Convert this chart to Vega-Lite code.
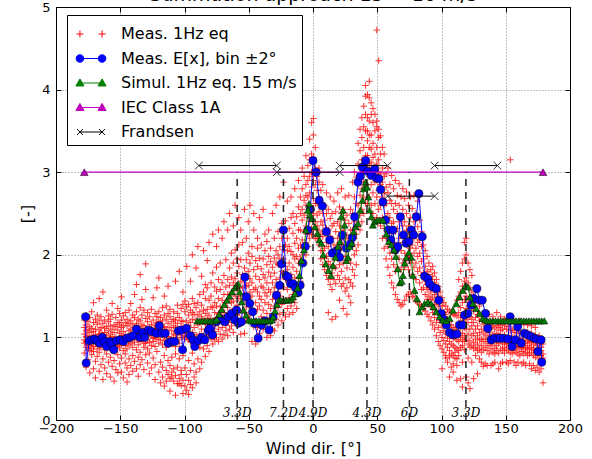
{
  "$schema": "https://vega.github.io/schema/vega-lite/v6.json",
  "width": 514,
  "height": 413,
  "autosize": {"type": "none"},
  "padding": {"left": 56, "top": 7, "right": 22, "bottom": 39},
  "background": "white",
  "title": {"text": "Summation approach 15 − 16 m/s", "font": "DejaVu Sans", "fontSize": 19, "fontWeight": "normal", "color": "black", "baseline": "alphabetic", "offset": 0, "dy": 19, "anchor": "middle", "frame": "group"},
  "config": {
    "view": {"stroke": "black", "strokeWidth": 1},
    "axis": {"labelFont": "DejaVu Sans", "labelFontSize": 13, "labelColor": "black", "titleFont": "DejaVu Sans", "titleFontSize": 16, "titleFontWeight": "normal", "titleColor": "black", "domain": false, "tickColor": "black", "tickSize": -5, "labelFlush": false, "labelOverlap": false, "gridColor": "#000000", "gridOpacity": 0.6, "gridDash": [1, 2], "gridWidth": 0.8}
  },
  "datasets": {
    "meas": [
      {"x":-178,"ys":[1.21,0.93,1.04,0.81,1.12,0.97]},
      {"x":-176.6,"ys":[0.88,1.15,1.01,0.64,1.27,0.95,1.08]},
      {"x":-175.1,"ys":[1.09,0.91,0.73,1.19,1.02,0.86]},
      {"x":-173.7,"ys":[0.97,1.24,0.84,1.06,0.57,1.13,0.9]},
      {"x":-172.2,"ys":[1.11,0.94,1.01,0.79,1.31,0.87]},
      {"x":-170.8,"ys":[0.89,1.07,1.18,0.62,0.99,1.42,0.83]},
      {"x":-169.3,"ys":[1.03,0.92,1.22,0.71,1.1,0.51,0.96]},
      {"x":-167.9,"ys":[1.16,0.86,1.0,0.77,1.27,0.93]},
      {"x":-166.4,"ys":[0.95,1.09,0.82,1.2,0.59,1.04,1.47,0.9]},
      {"x":-165,"ys":[1.12,0.99,0.67,0.88,1.25,1.05]},
      {"x":-163.5,"ys":[0.91,1.17,1.03,0.74,0.49,1.55,0.96]},
      {"x":-162.1,"ys":[1.06,0.85,1.21,0.63,0.98,1.11]},
      {"x":-160.6,"ys":[0.94,1.13,0.8,1.33,1.02,0.56,0.88]},
      {"x":-159.2,"ys":[1.08,0.97,1.19,0.7,0.9,1.26]},
      {"x":-157.7,"ys":[0.87,1.04,0.76,1.14,0.52,0.99,1.22]},
      {"x":-156.3,"ys":[1.1,0.92,1.28,0.65,1.01,1.41,0.84]},
      {"x":-154.8,"ys":[0.96,1.15,0.83,0.47,1.06,0.72]},
      {"x":-153.4,"ys":[1.13,0.89,1.24,1.0,0.61,0.93]},
      {"x":-151.9,"ys":[0.98,1.09,0.79,1.35,0.57,1.18,0.9]},
      {"x":-150.5,"ys":[1.05,0.87,1.16,0.68,1.29,0.95]},
      {"x":-149,"ys":[0.92,1.12,1.02,0.58,0.75,1.49,1.21]},
      {"x":-147.6,"ys":[1.07,0.95,1.26,0.51,0.84,1.14]},
      {"x":-146.1,"ys":[0.9,1.18,1.03,0.69,0.8,1.3,0.97]},
      {"x":-144.7,"ys":[1.14,0.99,0.86,1.22,0.46,0.63]},
      {"x":-143.2,"ys":[0.96,1.08,1.33,0.74,0.91,1.17,0.55]},
      {"x":-141.8,"ys":[1.1,0.93,1.2,0.66,1.03,1.41]},
      {"x":-140.3,"ys":[0.88,1.15,1.01,0.78,1.27,0.59,0.97]},
      {"x":-138.9,"ys":[1.05,0.94,1.24,0.71,1.12,1.52]},
      {"x":-137.4,"ys":[0.99,1.17,0.85,1.31,0.62,1.07,1.64]},
      {"x":-136,"ys":[1.13,0.91,1.04,0.76,1.22,0.53]},
      {"x":-134.5,"ys":[0.95,1.2,1.09,0.82,1.36,0.67,1.76]},
      {"x":-133.1,"ys":[1.08,0.98,1.27,0.73,1.15,1.46]},
      {"x":-131.6,"ys":[0.93,1.14,1.03,0.61,1.33,0.88]},
      {"x":-130.2,"ys":[1.11,1.0,1.23,0.79,1.58,0.93,1.89]},
      {"x":-128.7,"ys":[0.97,1.19,1.06,0.69,1.3,0.86]},
      {"x":-127.3,"ys":[1.12,0.94,1.25,0.81,0.56,1.04]},
      {"x":-125.8,"ys":[1.02,1.16,0.9,1.34,0.63,1.09]},
      {"x":-124.4,"ys":[0.95,1.21,1.07,0.75,1.48,0.99]},
      {"x":-122.9,"ys":[1.14,1.0,1.29,0.67,0.49,0.89,1.11]},
      {"x":-121.5,"ys":[0.98,1.18,1.06,0.83,1.6,1.25]},
      {"x":-120,"ys":[1.09,0.93,1.31,0.58,1.72,1.02,1.19]},
      {"x":-118.6,"ys":[1.16,0.97,1.24,0.7,0.45,1.05]},
      {"x":-117.1,"ys":[1.03,1.2,0.91,1.36,0.64,0.52,1.12]},
      {"x":-115.7,"ys":[0.96,1.13,1.27,0.78,1.5,0.41,1.06]},
      {"x":-114.2,"ys":[1.1,0.99,1.22,0.6,1.38,0.47,0.88]},
      {"x":-112.8,"ys":[1.01,1.17,0.94,0.72,0.55,1.62,1.29]},
      {"x":-111.3,"ys":[1.12,0.97,1.25,0.66,0.35,1.34,0.5]},
      {"x":-109.9,"ys":[0.99,1.19,1.08,0.76,0.58,0.52,0.92]},
      {"x":-108.4,"ys":[1.14,0.95,1.31,0.62,1.04,0.47,1.22]},
      {"x":-107,"ys":[1.03,1.21,0.89,0.8,0.54,0.3,1.68,1.12]},
      {"x":-105.5,"ys":[1.17,0.98,1.29,0.64,1.39,0.44,1.06]},
      {"x":-104.1,"ys":[1.06,1.24,0.93,0.74,0.5,0.44,1.8]},
      {"x":-102.6,"ys":[1.13,1.0,1.35,0.6,0.42,0.55,1.2]},
      {"x":-101.2,"ys":[1.02,1.19,1.09,0.78,0.48,0.32,1.55,1.4]},
      {"x":-99.7,"ys":[1.12,0.41,1.31,0.98,0.63,1.05,1.44]},
      {"x":-98.3,"ys":[0.36,1.2,1.01,1.37,0.55,1.86,1.09]},
      {"x":-96.8,"ys":[1.27,0.97,0.48,1.14,0.31,1.4,0.72]},
      {"x":-95.4,"ys":[1.04,1.33,0.6,1.18,0.95,1.68,0.43]},
      {"x":-93.9,"ys":[1.22,0.39,1.47,1.06,0.81,2.0,1.3]},
      {"x":-92.5,"ys":[0.99,1.28,0.52,1.12,0.68,1.41]},
      {"x":-91,"ys":[1.36,1.03,0.45,1.21,1.84,0.93,0.58]},
      {"x":-89.6,"ys":[1.15,0.74,1.42,0.98,2.1,1.27]},
      {"x":-88.1,"ys":[1.04,1.52,0.62,1.31,0.88,1.18]},
      {"x":-86.7,"ys":[1.39,1.1,0.7,1.25,1.74,0.97]},
      {"x":-85.2,"ys":[1.2,0.86,1.55,1.02,2.05,1.33]},
      {"x":-83.8,"ys":[1.0,1.47,1.16,0.77,1.64,1.29]},
      {"x":-82.3,"ys":[1.34,1.08,1.6,0.9,1.23,1.93]},
      {"x":-80.9,"ys":[1.13,1.45,0.83,1.27,2.15,1.02]},
      {"x":-79.4,"ys":[1.5,1.22,0.98,1.66,1.09,1.37]},
      {"x":-78,"ys":[1.05,1.36,1.78,1.18,0.92,2.25]},
      {"x":-76.5,"ys":[1.42,1.14,1.61,0.97,1.3,1.07]},
      {"x":-75.1,"ys":[1.24,1.56,1.0,1.85,1.38,2.1]},
      {"x":-73.6,"ys":[1.1,1.47,1.29,0.95,1.7,2.3]},
      {"x":-72.2,"ys":[1.58,1.2,1.37,1.04,1.9,1.27]},
      {"x":-70.7,"ys":[1.33,1.12,1.66,1.45,0.98,2.2]},
      {"x":-69.3,"ys":[1.19,1.52,1.03,1.75,1.3,2.4]},
      {"x":-67.8,"ys":[1.61,1.26,1.42,1.08,1.94,1.15]},
      {"x":-66.4,"ys":[1.36,1.7,1.18,1.52,2.3,1.02]},
      {"x":-64.9,"ys":[1.22,1.47,1.84,1.1,1.63,2.5]},
      {"x":-63.5,"ys":[1.55,1.31,1.14,1.73,2.02,1.42]},
      {"x":-62,"ys":[1.28,1.66,1.44,1.06,1.9,2.35]},
      {"x":-60.6,"ys":[1.71,1.2,1.5,1.35,2.06,2.6]},
      {"x":-59.1,"ys":[1.39,1.78,1.16,1.58,1.95,1.27]},
      {"x":-57.7,"ys":[1.6,1.3,1.86,1.47,2.12,2.45]},
      {"x":-56.2,"ys":[1.22,1.68,1.5,1.04,1.94,2.3]},
      {"x":-54.8,"ys":[1.76,1.43,1.19,1.6,2.15,1.33]},
      {"x":-53.3,"ys":[1.52,1.84,1.3,1.66,1.05,2.55]},
      {"x":-51.9,"ys":[1.37,1.62,1.94,1.21,1.75,2.2]},
      {"x":-50.4,"ys":[1.8,1.48,1.26,1.63,2.02,2.4]},
      {"x":-49,"ys":[1.44,1.71,1.2,1.9,1.55,2.6]},
      {"x":-47.5,"ys":[1.66,1.35,1.98,1.5,0.95,2.1]},
      {"x":-46.1,"ys":[1.29,1.82,1.58,1.13,2.3,2.5]},
      {"x":-44.6,"ys":[1.74,1.42,1.2,1.93,1.6,0.92]},
      {"x":-43.2,"ys":[1.55,1.86,1.34,2.08,1.12,2.2]},
      {"x":-41.7,"ys":[1.38,1.7,1.96,1.5,2.45,1.05]},
      {"x":-40.3,"ys":[1.83,1.46,1.62,1.25,2.12,1.15]},
      {"x":-38.8,"ys":[1.6,1.95,1.33,1.76,2.55,1.1]},
      {"x":-37.4,"ys":[1.42,1.72,2.05,1.54,1.18,2.25]},
      {"x":-35.9,"ys":[1.88,1.5,1.66,1.29,2.16,1.0]},
      {"x":-34.5,"ys":[1.58,1.98,1.4,1.79,2.3,1.2]},
      {"x":-33,"ys":[1.74,1.35,2.08,1.55,1.02,1.92]},
      {"x":-31.6,"ys":[1.46,1.85,1.66,1.25,2.5,1.1]},
      {"x":-30.1,"ys":[1.96,1.6,1.38,2.2,1.78,1.08]},
      {"x":-28.7,"ys":[1.7,2.05,1.48,1.9,2.6,1.22]},
      {"x":-27.2,"ys":[1.55,1.88,2.28,1.36,2.0,1.15]},
      {"x":-25.8,"ys":[2.1,1.72,1.5,1.95,2.7,1.28]},
      {"x":-24.3,"ys":[1.8,2.2,1.62,2.38,1.4,1.2]},
      {"x":-22.9,"ys":[1.95,1.6,2.3,1.78,2.88,1.3,2.06]},
      {"x":-21.4,"ys":[1.7,2.12,1.86,2.41,1.45,1.25]},
      {"x":-20,"ys":[2.2,1.82,1.58,2.05,2.65,1.35]},
      {"x":-18.5,"ys":[1.9,2.32,1.68,2.1,1.48,1.28]},
      {"x":-17.1,"ys":[2.04,1.76,2.45,1.62,2.7,1.38]},
      {"x":-15.6,"ys":[1.85,2.26,2.0,1.52,2.5,1.3]},
      {"x":-14.2,"ys":[2.14,1.72,2.38,1.95,2.8,1.42]},
      {"x":-12.7,"ys":[1.98,2.46,1.8,2.2,1.6,1.35]},
      {"x":-11.3,"ys":[2.3,1.9,2.58,2.08,2.9,1.72]},
      {"x":-9.8,"ys":[2.12,2.5,1.95,2.7,2.3,1.68]},
      {"x":-8.4,"ys":[2.42,2.18,2.8,2.0,3.05,2.55]},
      {"x":-6.9,"ys":[2.28,2.66,2.1,2.95,2.48,1.9]},
      {"x":-5.5,"ys":[2.6,2.35,2.85,2.15,3.2,2.0,2.72]},
      {"x":-4,"ys":[2.45,2.9,2.25,2.7,3.08,2.1]},
      {"x":-2.6,"ys":[2.75,2.4,3.15,2.58,3.4,2.2,2.95]},
      {"x":-1.1,"ys":[2.55,3.0,2.32,2.82,3.6,2.25,3.22]},
      {"x":0.3,"ys":[2.9,2.5,3.18,2.68,3.45,3.65,2.3,2.98]},
      {"x":1.8,"ys":[2.62,3.05,2.4,2.85,3.3,2.2]},
      {"x":3.2,"ys":[2.48,2.78,2.2,2.95,2.62,2.35]},
      {"x":4.7,"ys":[2.7,2.3,2.88,2.12,3.05,2.52]},
      {"x":6.1,"ys":[2.4,2.6,2.05,2.78,2.25,1.95]},
      {"x":7.6,"ys":[2.22,2.5,1.88,2.85,2.36,2.05]},
      {"x":9,"ys":[2.42,2.08,2.6,1.82,2.28,1.96]},
      {"x":10.5,"ys":[2.15,2.5,1.75,2.75,2.32,1.98]},
      {"x":11.9,"ys":[2.3,1.92,2.55,1.7,2.1,1.3]},
      {"x":13.4,"ys":[2.02,2.44,1.64,2.7,2.22,1.88]},
      {"x":14.8,"ys":[2.2,1.78,2.5,1.58,2.35,1.22]},
      {"x":16.3,"ys":[1.95,2.38,1.7,2.65,2.12,1.85]},
      {"x":17.7,"ys":[2.28,1.84,2.52,1.65,2.08,1.25]},
      {"x":19.2,"ys":[2.0,2.4,1.75,2.75,2.2,1.95]},
      {"x":20.6,"ys":[2.35,1.88,2.58,1.7,2.15,1.45]},
      {"x":22.1,"ys":[2.08,2.5,1.8,2.8,2.26,1.62]},
      {"x":23.5,"ys":[2.3,1.9,2.55,1.65,2.12,1.35]},
      {"x":25,"ys":[1.98,2.42,1.72,2.7,2.18,1.56]},
      {"x":26.4,"ys":[2.24,1.84,2.48,1.6,2.05,1.28]},
      {"x":27.9,"ys":[1.95,2.38,1.7,2.72,2.2,1.5]},
      {"x":29.3,"ys":[2.3,1.9,2.55,1.66,2.12,1.42]},
      {"x":30.8,"ys":[2.1,2.5,1.82,2.88,2.3,1.62]},
      {"x":32.2,"ys":[2.4,2.0,2.7,3.0,2.2,1.75]},
      {"x":33.7,"ys":[2.25,2.62,2.94,2.05,2.45,1.88]},
      {"x":35.1,"ys":[2.6,2.35,3.1,2.85,3.35,2.12]},
      {"x":36.6,"ys":[2.48,2.95,2.72,3.26,3.52,2.3]},
      {"x":38,"ys":[2.8,3.15,2.55,3.42,3.66,3.0,2.4]},
      {"x":39.5,"ys":[3.0,2.7,3.3,3.55,3.8,2.88,2.5]},
      {"x":40.9,"ys":[3.2,2.85,3.5,3.08,3.92,4.05,2.62,3.7]},
      {"x":42.4,"ys":[3.05,3.38,2.8,3.66,3.94,3.2,2.62,3.5]},
      {"x":43.8,"ys":[3.3,2.95,3.62,3.1,3.9,4.1,2.7,3.45]},
      {"x":45.3,"ys":[3.12,3.45,2.85,3.7,3.28,2.6,3.84]},
      {"x":46.7,"ys":[2.98,3.35,3.6,2.75,3.18,3.77,2.5]},
      {"x":48.2,"ys":[3.22,2.88,3.5,3.05,2.62,3.7,2.42]},
      {"x":49.6,"ys":[2.9,3.3,2.7,3.55,3.1,4.72,2.45,3.62]},
      {"x":51.1,"ys":[3.15,2.78,3.42,2.55,3.0,4.35,3.52]},
      {"x":52.5,"ys":[2.85,3.22,2.6,2.98,3.44,2.35]},
      {"x":54,"ys":[3.05,2.7,2.45,3.3,2.88,2.2]},
      {"x":55.4,"ys":[2.6,2.95,2.32,3.22,2.75,2.08]},
      {"x":56.9,"ys":[2.82,2.45,2.98,2.2,2.62,1.95]},
      {"x":58.3,"ys":[2.5,2.75,2.1,3.05,2.32,1.85]},
      {"x":59.8,"ys":[2.66,2.28,2.85,2.02,2.45,1.75]},
      {"x":61.2,"ys":[2.38,2.62,1.95,2.96,2.2,1.66]},
      {"x":62.7,"ys":[2.55,2.15,2.8,1.88,2.4,1.6]},
      {"x":64.1,"ys":[2.28,2.62,2.02,2.9,1.8,1.52]},
      {"x":65.6,"ys":[2.5,2.1,2.72,1.85,2.32,1.46]},
      {"x":67,"ys":[2.2,2.6,1.95,2.86,2.4,1.42]},
      {"x":68.5,"ys":[2.45,2.05,2.7,1.82,2.25,1.38]},
      {"x":69.9,"ys":[2.15,2.55,1.9,2.8,2.35,1.4]},
      {"x":71.4,"ys":[2.4,2.02,2.68,1.85,2.22,1.45]},
      {"x":72.8,"ys":[2.12,2.5,1.95,2.76,2.3,1.5]},
      {"x":74.3,"ys":[2.35,1.98,2.6,1.82,2.18,1.52]},
      {"x":75.7,"ys":[2.08,2.45,1.9,2.7,2.25,1.55]},
      {"x":77.2,"ys":[2.3,1.94,2.56,1.76,2.12,1.49]},
      {"x":78.6,"ys":[2.02,2.4,1.85,2.72,2.2,1.5]},
      {"x":80.1,"ys":[2.25,1.9,2.5,1.7,2.08,1.44]},
      {"x":81.5,"ys":[1.98,2.34,1.8,2.65,2.15,1.42]},
      {"x":83,"ys":[2.18,1.84,2.42,1.66,2.02,1.4]},
      {"x":84.4,"ys":[1.92,2.28,1.75,2.1,1.58,1.38]},
      {"x":85.9,"ys":[2.12,1.78,1.95,1.6,2.22,1.35]},
      {"x":87.3,"ys":[1.86,2.05,1.68,1.52,1.76,1.32]},
      {"x":88.8,"ys":[1.64,1.98,1.8,1.46,1.58,1.28]},
      {"x":90.2,"ys":[1.9,1.6,1.76,1.42,1.5,1.25]},
      {"x":91.7,"ys":[1.55,1.82,1.7,1.37,1.46,1.2]},
      {"x":93.1,"ys":[1.74,1.48,1.62,1.3,1.86,1.15]},
      {"x":94.6,"ys":[1.4,1.66,1.52,1.24,1.78,1.1]},
      {"x":96,"ys":[1.56,1.32,1.44,1.18,1.7,1.02]},
      {"x":97.5,"ys":[1.28,1.5,1.38,1.12,1.62,0.95]},
      {"x":98.9,"ys":[1.44,1.2,1.32,1.06,1.55,0.9]},
      {"x":100.4,"ys":[1.14,1.38,1.26,1.0,0.62,1.48,0.86]},
      {"x":101.8,"ys":[1.3,1.08,1.22,0.96,1.42,0.82]},
      {"x":103.3,"ys":[1.04,1.28,1.16,0.92,0.75,1.38,0.78]},
      {"x":104.7,"ys":[1.22,0.99,1.12,0.88,1.34,0.7]},
      {"x":106.2,"ys":[0.95,1.2,1.06,0.84,0.52,1.32,0.76]},
      {"x":107.6,"ys":[1.15,0.92,1.03,0.8,1.3,0.64]},
      {"x":109.1,"ys":[0.9,1.12,0.99,0.78,0.68,1.28,0.58]},
      {"x":110.5,"ys":[1.1,0.88,1.0,0.75,1.27,0.82]},
      {"x":112,"ys":[0.86,1.08,0.97,0.66,0.48,1.26,1.45,0.74]},
      {"x":113.4,"ys":[1.05,0.84,1.3,0.95,1.5,1.7,0.78,1.18]},
      {"x":114.9,"ys":[0.88,1.12,1.0,1.36,0.5,1.55,1.8,1.24]},
      {"x":116.3,"ys":[1.05,0.9,1.42,1.2,0.7,1.62,1.9,0.4,0.97]},
      {"x":117.8,"ys":[1.3,0.95,1.12,1.46,1.68,0.85,1.95,2.15,1.02]},
      {"x":119.2,"ys":[0.98,1.22,1.5,1.1,1.72,0.52,2.0,2.2,1.35]},
      {"x":120.7,"ys":[1.18,0.92,1.46,1.04,1.66,0.75,1.9,0.45,1.28]},
      {"x":122.1,"ys":[0.96,1.25,1.1,1.42,0.38,1.6,1.82,0.88]},
      {"x":123.6,"ys":[1.14,0.9,1.36,1.02,0.7,1.55,1.75,1.22]},
      {"x":125,"ys":[0.94,1.18,1.05,1.32,0.5,1.5,0.86]},
      {"x":126.5,"ys":[1.1,0.88,1.24,0.98,0.78,1.44]},
      {"x":128,"ys":[0.92,1.14,1.02,1.28,0.56,0.84]},
      {"x":129.5,"ys":[1.06,0.86,1.2,0.97,0.74,1.38]},
      {"x":131,"ys":[0.9,1.1,0.98,1.22,0.7,0.82]},
      {"x":132.5,"ys":[1.04,0.85,1.16,0.95,0.65]},
      {"x":134,"ys":[0.88,1.08,0.98,1.2,0.68,1.3]},
      {"x":135.5,"ys":[1.02,0.84,1.14,0.93,0.66]},
      {"x":137,"ys":[0.9,1.06,0.8,1.15,0.98,1.28]},
      {"x":138.5,"ys":[1.0,0.86,1.12,0.94,0.66]},
      {"x":140,"ys":[0.82,1.04,0.92,1.14,0.68,1.25]},
      {"x":141.5,"ys":[0.98,0.87,1.1,0.8,0.7]},
      {"x":143,"ys":[0.9,1.05,0.84,1.14,0.96,1.3]},
      {"x":144.5,"ys":[1.02,0.81,0.93,1.12,0.62]},
      {"x":146,"ys":[0.86,1.08,0.97,1.15,0.68,1.25]},
      {"x":147.5,"ys":[1.0,0.84,1.1,0.92,0.7]},
      {"x":149,"ys":[0.88,1.03,0.81,1.14,0.95,1.22]},
      {"x":150.5,"ys":[0.98,0.86,1.1,0.92,0.7]},
      {"x":152,"ys":[0.84,1.02,0.93,1.13,0.68,1.2]},
      {"x":153.5,"ys":[0.96,0.82,1.08,0.9,0.72,3.15]},
      {"x":155,"ys":[0.88,1.0,0.8,1.1,0.94,1.22]},
      {"x":156.5,"ys":[0.97,0.84,1.06,0.9,0.7]},
      {"x":158,"ys":[0.82,0.99,0.89,1.09,0.66,1.18]},
      {"x":159.5,"ys":[0.95,0.8,1.05,0.88,0.7]},
      {"x":161,"ys":[0.86,0.98,0.78,1.08,0.93,1.2]},
      {"x":162.5,"ys":[0.96,0.83,1.05,0.88,0.68]},
      {"x":164,"ys":[0.8,0.97,0.88,1.07,0.7,1.16]},
      {"x":165.5,"ys":[0.93,0.82,1.03,0.87,0.66]},
      {"x":167,"ys":[0.85,0.96,0.78,1.06,0.9,1.15]},
      {"x":168.5,"ys":[0.94,0.8,1.02,0.87,0.68]},
      {"x":170,"ys":[0.82,0.95,0.88,1.05,0.62,1.14]},
      {"x":171.5,"ys":[0.92,0.78,1.0,0.86,0.66]},
      {"x":173,"ys":[0.84,0.94,0.76,1.03,0.6,1.12]},
      {"x":174.5,"ys":[0.9,0.8,0.98,0.85,0.64]},
      {"x":176,"ys":[0.82,0.92,0.74,1.02,0.58]},
      {"x":177.5,"ys":[0.88,0.78,0.96,0.84,0.62]},
      {"x":179,"ys":[0.8,0.92,0.75,0.45]}
    ],
    "blue": [
      {"x":-177,"y":1.25},{"x":-176.5,"y":0.69},{"x":-174,"y":0.96},{"x":-172,"y":0.97},{"x":-170,"y":0.98},{"x":-168,"y":0.96},{"x":-166,"y":0.93},{"x":-164,"y":1.0},{"x":-162,"y":0.95},{"x":-160.5,"y":0.89},{"x":-158,"y":0.95},{"x":-156.5,"y":0.93},{"x":-155,"y":0.85},{"x":-152.8,"y":0.96},{"x":-150,"y":0.97},{"x":-147.6,"y":0.95},{"x":-145,"y":0.99},{"x":-142.5,"y":1.0},{"x":-140,"y":1.02},{"x":-137.4,"y":1.1},{"x":-134.7,"y":1.0},{"x":-132.6,"y":1.06},{"x":-131,"y":1.0},{"x":-128,"y":1.09},{"x":-125.6,"y":1.07},{"x":-122,"y":1.05},{"x":-119.6,"y":1.14},{"x":-117.8,"y":1.05},{"x":-115,"y":1.05},{"x":-112.6,"y":0.93},{"x":-110,"y":0.95},{"x":-107.5,"y":0.95},{"x":-104.8,"y":1.08},{"x":-102.3,"y":1.09},{"x":-101.5,"y":0.85},{"x":-98.4,"y":1.11},{"x":-95.3,"y":1.02},{"x":-93.3,"y":0.97},{"x":-92,"y":0.89},{"x":-89.3,"y":0.96},{"x":-86.7,"y":1.0},{"x":-84.2,"y":0.97},{"x":-81.6,"y":1.08},{"x":-80.3,"y":1.11},{"x":-78.2,"y":1.03},{"x":-75,"y":1.19},{"x":-72.5,"y":1.23},{"x":-68.6,"y":1.19},{"x":-66,"y":1.25},{"x":-63.4,"y":1.29},{"x":-60.9,"y":1.21},{"x":-59.5,"y":1.33},{"x":-58,"y":1.17},{"x":-55.7,"y":1.19},{"x":-53,"y":1.73},{"x":-51.8,"y":1.49},{"x":-49.2,"y":1.41},{"x":-47,"y":1.31},{"x":-45.5,"y":1.17},{"x":-42.7,"y":0.99},{"x":-40,"y":1.15},{"x":-37.5,"y":1.2},{"x":-34.2,"y":1.09},{"x":-31,"y":1.25},{"x":-28.4,"y":1.51},{"x":-26,"y":1.63},{"x":-24.5,"y":1.89},{"x":-23,"y":2.3},{"x":-21,"y":1.75},{"x":-19.4,"y":1.73},{"x":-17.5,"y":1.65},{"x":-15.5,"y":1.65},{"x":-13.5,"y":1.6},{"x":-11.6,"y":1.54},{"x":-10,"y":1.63},{"x":-8,"y":1.9},{"x":-6,"y":2.1},{"x":-4,"y":2.3},{"x":-2,"y":2.55},{"x":0,"y":3.14},{"x":2.5,"y":3.0},{"x":4.8,"y":2.66},{"x":7.3,"y":2.59},{"x":10.4,"y":2.28},{"x":13,"y":2.18},{"x":15,"y":2.02},{"x":18.6,"y":2.05},{"x":20.7,"y":1.97},{"x":22.8,"y":2.24},{"x":26,"y":2.08},{"x":29,"y":2.13},{"x":30.6,"y":2.21},{"x":32.4,"y":2.46},{"x":35,"y":2.88},{"x":36.8,"y":2.95},{"x":38.4,"y":3.06},{"x":41,"y":3.14},{"x":42.5,"y":3.01},{"x":45.4,"y":2.96},{"x":48,"y":3.04},{"x":49.3,"y":2.93},{"x":51.3,"y":2.92},{"x":52.6,"y":2.79},{"x":54.4,"y":2.64},{"x":56.5,"y":2.42},{"x":58.5,"y":2.3},{"x":60.5,"y":2.18},{"x":62.2,"y":2.3},{"x":64,"y":2.06},{"x":66,"y":2.1},{"x":68,"y":2.46},{"x":70.5,"y":2.24},{"x":72.5,"y":2.14},{"x":74.6,"y":2.16},{"x":76.5,"y":2.3},{"x":78.3,"y":2.24},{"x":80.4,"y":2.46},{"x":82.4,"y":2.74},{"x":85,"y":2.22},{"x":86.8,"y":1.74},{"x":89.4,"y":1.71},{"x":90.7,"y":1.65},{"x":93.3,"y":1.61},{"x":95.9,"y":1.59},{"x":97.9,"y":1.45},{"x":99.8,"y":1.29},{"x":101.6,"y":1.22},{"x":103.7,"y":1.15},{"x":106.3,"y":1.06},{"x":108.8,"y":1.03},{"x":112,"y":1.04},{"x":114,"y":1.15},{"x":116.6,"y":1.15},{"x":117.9,"y":1.27},{"x":120.5,"y":1.29},{"x":123,"y":1.39},{"x":125,"y":1.47},{"x":127.5,"y":1.59},{"x":129.6,"y":1.45},{"x":131.7,"y":1.45},{"x":134.2,"y":1.29},{"x":136,"y":1.11},{"x":138.7,"y":0.97},{"x":141.2,"y":0.99},{"x":143.8,"y":0.99},{"x":145.7,"y":0.99},{"x":148.2,"y":0.99},{"x":151.6,"y":0.98},{"x":153.4,"y":1.25},{"x":155,"y":0.89},{"x":157.5,"y":0.97},{"x":159.3,"y":1.13},{"x":162,"y":0.93},{"x":164.5,"y":1.05},{"x":167,"y":1.03},{"x":169.7,"y":1.01},{"x":172.3,"y":0.99},{"x":174,"y":0.98},{"x":175,"y":0.83},{"x":177.5,"y":0.97},{"x":178,"y":0.7}
    ],
    "green": [
      {"x":-90,"y":1.2},{"x":-88,"y":1.2},{"x":-86,"y":1.2},{"x":-84,"y":1.2},{"x":-82,"y":1.2},{"x":-80,"y":1.2},{"x":-78,"y":1.2},{"x":-76,"y":1.2},{"x":-75,"y":1.22},{"x":-73,"y":1.28},{"x":-71,"y":1.34},{"x":-69,"y":1.4},{"x":-67,"y":1.45},{"x":-65,"y":1.5},{"x":-63,"y":1.55},{"x":-61,"y":1.6},{"x":-59.5,"y":1.63},{"x":-58.3,"y":1.65},{"x":-57,"y":1.55},{"x":-55.5,"y":1.43},{"x":-54,"y":1.33},{"x":-52,"y":1.27},{"x":-50,"y":1.21},{"x":-48,"y":1.2},{"x":-46,"y":1.2},{"x":-44,"y":1.2},{"x":-42,"y":1.2},{"x":-40,"y":1.2},{"x":-38,"y":1.2},{"x":-36,"y":1.2},{"x":-34,"y":1.2},{"x":-32,"y":1.21},{"x":-31,"y":1.25},{"x":-29.5,"y":1.32},{"x":-28,"y":1.4},{"x":-26.5,"y":1.45},{"x":-25,"y":1.45},{"x":-23,"y":1.45},{"x":-21,"y":1.45},{"x":-19,"y":1.45},{"x":-17,"y":1.46},{"x":-15.5,"y":1.49},{"x":-14,"y":1.53},{"x":-12,"y":1.6},{"x":-10.5,"y":1.75},{"x":-9,"y":1.93},{"x":-7,"y":2.06},{"x":-5.5,"y":2.3},{"x":-4,"y":2.54},{"x":-3,"y":2.62},{"x":-2,"y":2.48},{"x":-0.5,"y":2.44},{"x":1.5,"y":2.34},{"x":3.5,"y":2.26},{"x":5,"y":2.18},{"x":6.5,"y":2.14},{"x":8,"y":2.0},{"x":10,"y":1.89},{"x":12,"y":1.81},{"x":14,"y":1.75},{"x":15.5,"y":1.87},{"x":17.5,"y":1.97},{"x":19.5,"y":2.1},{"x":21,"y":2.16},{"x":22,"y":2.46},{"x":23.3,"y":2.54},{"x":24.6,"y":2.36},{"x":26,"y":1.93},{"x":27.2,"y":1.97},{"x":28.5,"y":2.1},{"x":30,"y":2.14},{"x":31.6,"y":2.28},{"x":33.2,"y":2.34},{"x":35,"y":2.38},{"x":36.8,"y":2.54},{"x":38.4,"y":2.66},{"x":39.4,"y":2.8},{"x":41,"y":2.88},{"x":42,"y":2.82},{"x":43,"y":2.7},{"x":44,"y":2.54},{"x":45.4,"y":2.46},{"x":46.6,"y":2.36},{"x":48,"y":2.4},{"x":50,"y":2.42},{"x":52,"y":2.42},{"x":54.4,"y":2.42},{"x":57,"y":2.25},{"x":59,"y":2.16},{"x":61,"y":2.12},{"x":63,"y":2.06},{"x":64.5,"y":1.98},{"x":66,"y":1.83},{"x":67.5,"y":1.66},{"x":69,"y":1.68},{"x":70,"y":1.75},{"x":71.3,"y":1.9},{"x":72.6,"y":1.97},{"x":74.6,"y":2.03},{"x":76.5,"y":1.97},{"x":77.7,"y":1.75},{"x":79,"y":1.57},{"x":80.9,"y":1.47},{"x":82.9,"y":1.31},{"x":85,"y":1.37},{"x":86.8,"y":1.41},{"x":89.4,"y":1.43},{"x":92,"y":1.41},{"x":93.8,"y":1.37},{"x":95.9,"y":1.31},{"x":98.5,"y":1.25},{"x":101,"y":1.21},{"x":103.7,"y":1.2},{"x":106.3,"y":1.23},{"x":108.8,"y":1.33},{"x":111.5,"y":1.41},{"x":114,"y":1.49},{"x":116.6,"y":1.57},{"x":118.7,"y":1.63},{"x":120.5,"y":1.61},{"x":122.3,"y":1.49},{"x":124.4,"y":1.41},{"x":127,"y":1.35},{"x":129.6,"y":1.29},{"x":132,"y":1.23},{"x":134,"y":1.21},{"x":136,"y":1.2},{"x":138,"y":1.2},{"x":140,"y":1.2},{"x":142,"y":1.2},{"x":144,"y":1.2},{"x":146,"y":1.2},{"x":148,"y":1.2},{"x":150,"y":1.2},{"x":152,"y":1.2},{"x":154,"y":1.2},{"x":156,"y":1.2},{"x":158,"y":1.2},{"x":160,"y":1.2},{"x":162,"y":1.2},{"x":164,"y":1.2},{"x":166,"y":1.2},{"x":168,"y":1.2},{"x":170,"y":1.2},{"x":172,"y":1.2},{"x":174,"y":1.2},{"x":176,"y":1.2},{"x":178,"y":1.2},{"x":180,"y":1.2}
    ],
    "iec": [{"x":-178,"y":3.0,"s":"IEC Class 1A"},{"x":179,"y":3.0,"s":"IEC Class 1A"}],
    "fr": [
      {"g":1,"x":-88.8,"y":3.08},{"g":1,"x":-28.2,"y":3.08},
      {"g":2,"x":-28.2,"y":3.0},{"g":2,"x":20.8,"y":3.0},
      {"g":3,"x":20.8,"y":3.08},{"g":3,"x":58,"y":3.08},
      {"g":4,"x":58,"y":2.71},{"g":4,"x":94.6,"y":2.71},
      {"g":5,"x":94.6,"y":3.08},{"g":5,"x":143.5,"y":3.08}
    ],
    "wake": [
      {"x":-59,"t":"3.3D"},{"x":-23,"t":"7.2D"},{"x":0,"t":"4.9D"},{"x":42,"t":"4.3D"},{"x":75,"t":"6D"},{"x":119,"t":"3.3D"}
    ]
  },
  "layer": [
    {
      "data": {"name": "meas"},
      "transform": [{"flatten": ["ys"], "as": ["y"]}],
      "mark": {"type": "point", "shape": "M-1,0H1M0,-1V1", "filled": false, "stroke": "#ff0000", "strokeWidth": 1, "opacity": 0.8, "size": 42},
      "encoding": {
        "x": {"field": "x", "type": "quantitative", "scale": {"domain": [-200, 200], "nice": false, "zero": false},
              "axis": {"values": [-200, -150, -100, -50, 0, 50, 100, 150, 200], "grid": true, "title": "Wind dir. [°]", "labelPadding": 7, "titlePadding": 5}},
        "y": {"field": "y", "type": "quantitative", "scale": {"domain": [0, 5], "nice": false, "zero": false},
              "axis": {"values": [0, 1, 2, 3, 4, 5], "grid": true, "title": "[-]", "labelPadding": 11, "titlePadding": 6}}
      }
    },
    {
      "data": {"name": "blue"},
      "mark": {"type": "line", "stroke": "#0000ff", "strokeWidth": 1},
      "encoding": {"x": {"field": "x", "type": "quantitative", "axis": null}, "y": {"field": "y", "type": "quantitative", "axis": null}}
    },
    {
      "data": {"name": "blue"},
      "mark": {"type": "point", "shape": "circle", "filled": true, "fill": "#0000ff", "stroke": "#000000", "strokeWidth": 0.5, "opacity": 1, "size": 66},
      "encoding": {"x": {"field": "x", "type": "quantitative", "axis": null}, "y": {"field": "y", "type": "quantitative", "axis": null}}
    },
    {
      "data": {"name": "green"},
      "mark": {"type": "line", "stroke": "#008000", "strokeWidth": 1},
      "encoding": {"x": {"field": "x", "type": "quantitative", "axis": null}, "y": {"field": "y", "type": "quantitative", "axis": null}}
    },
    {
      "data": {"name": "green"},
      "mark": {"type": "point", "shape": "triangle-up", "filled": true, "fill": "#008000", "stroke": "#000000", "strokeWidth": 0.5, "opacity": 1, "size": 50},
      "encoding": {"x": {"field": "x", "type": "quantitative", "axis": null}, "y": {"field": "y", "type": "quantitative", "axis": null}}
    },
    {
      "data": {"name": "iec"},
      "mark": {"type": "line", "strokeWidth": 1.2},
      "encoding": {
        "x": {"field": "x", "type": "quantitative", "axis": null},
        "y": {"field": "y", "type": "quantitative", "axis": null},
        "color": {"field": "s", "type": "nominal",
          "scale": {"domain": ["Meas. 1Hz eq", "Meas. E[x], bin ±2°", "Simul. 1Hz eq. 15 m/s", "IEC Class 1A", "Frandsen"], "range": ["#ff0000", "#0000ff", "#008000", "#bf00bf", "#000000"]},
          "legend": {
            "title": null, "orient": "none", "legendX": 11, "legendY": 8,
            "padding": 5, "strokeColor": "#000000", "fillColor": "#ffffff", "cornerRadius": 0,
            "labelFont": "DejaVu Sans", "labelFontSize": 16, "labelColor": "#000000", "labelLimit": 400,
            "symbolSize": 729, "symbolOffset": 5, "labelOffset": 16, "rowPadding": 2.5, "symbolStrokeWidth": 1,
            "encode": {"symbols": {"update": {
              "shape": {"signal": "['M-1.08,0H-0.56M-0.82,-0.26V0.26M0.56,0H1.08M0.82,-0.26V0.26', 'M-0.82,0H0.82M-0.54,0A0.28,0.28,0,1,1,-1.1,0A0.28,0.28,0,1,1,-0.54,0ZM1.1,0A0.28,0.28,0,1,1,0.54,0A0.28,0.28,0,1,1,1.1,0Z', 'M-0.82,0H0.82M-0.82,-0.3L-0.52,0.22L-1.12,0.22ZM0.82,-0.3L1.12,0.22L0.52,0.22Z', 'M-0.82,0H0.82M-0.82,-0.3L-0.52,0.22L-1.12,0.22ZM0.82,-0.3L1.12,0.22L0.52,0.22Z', 'M-0.82,0H0.82M-1.04,-0.22L-0.6,0.22M-1.04,0.22L-0.6,-0.22M0.6,-0.22L1.04,0.22M0.6,0.22L1.04,-0.22'][datum.index]"},
              "fill": {"scale": "color", "field": "value"},
              "stroke": {"scale": "color", "field": "value"},
              "strokeWidth": {"value": 1},
              "opacity": {"value": 1},
              "fillOpacity": {"value": 1},
              "strokeOpacity": {"value": 1}
            }}}
          }
        }
      }
    },
    {
      "data": {"name": "iec"},
      "mark": {"type": "point", "shape": "triangle-up", "filled": true, "fill": "#bf00bf", "stroke": "#000000", "strokeWidth": 0.5, "opacity": 1, "size": 60},
      "encoding": {"x": {"field": "x", "type": "quantitative", "axis": null}, "y": {"field": "y", "type": "quantitative", "axis": null}}
    },
    {
      "data": {"name": "fr"},
      "mark": {"type": "line", "stroke": "#000000", "strokeWidth": 1},
      "encoding": {"x": {"field": "x", "type": "quantitative", "axis": null}, "y": {"field": "y", "type": "quantitative", "axis": null}, "detail": {"field": "g", "type": "nominal"}}
    },
    {
      "data": {"name": "fr"},
      "mark": {"type": "point", "shape": "M-1,-1L1,1M-1,1L1,-1", "filled": false, "stroke": "#333333", "strokeWidth": 1, "opacity": 1, "size": 60},
      "encoding": {"x": {"field": "x", "type": "quantitative", "axis": null}, "y": {"field": "y", "type": "quantitative", "axis": null}}
    },
    {
      "data": {"name": "wake"},
      "mark": {"type": "rule", "stroke": "#222222", "strokeWidth": 1.5, "strokeDash": [7, 6]},
      "encoding": {"x": {"field": "x", "type": "quantitative", "axis": null}, "y": {"datum": 0, "type": "quantitative", "axis": null}, "y2": {"datum": 3.0}}
    },
    {
      "data": {"name": "wake"},
      "mark": {"type": "text", "font": "DejaVu Serif", "fontStyle": "italic", "fontSize": 12, "color": "#000000", "baseline": "alphabetic", "align": "center"},
      "encoding": {"x": {"field": "x", "type": "quantitative", "axis": null}, "y": {"datum": 0.04, "type": "quantitative", "axis": null}, "text": {"field": "t"}}
    },
    {
      "data": {"name": "iec"},
      "mark": {"type": "point", "opacity": 0},
      "encoding": {
        "x": {"field": "x", "type": "quantitative", "axis": {"orient": "top", "labels": false, "title": null, "grid": false, "values": [-200, -150, -100, -50, 0, 50, 100, 150, 200]}},
        "y": {"field": "y", "type": "quantitative", "axis": {"orient": "right", "labels": false, "title": null, "grid": false, "values": [0, 1, 2, 3, 4, 5]}}
      }
    }
  ],
  "resolve": {"axis": {"x": "independent", "y": "independent"}}
}
